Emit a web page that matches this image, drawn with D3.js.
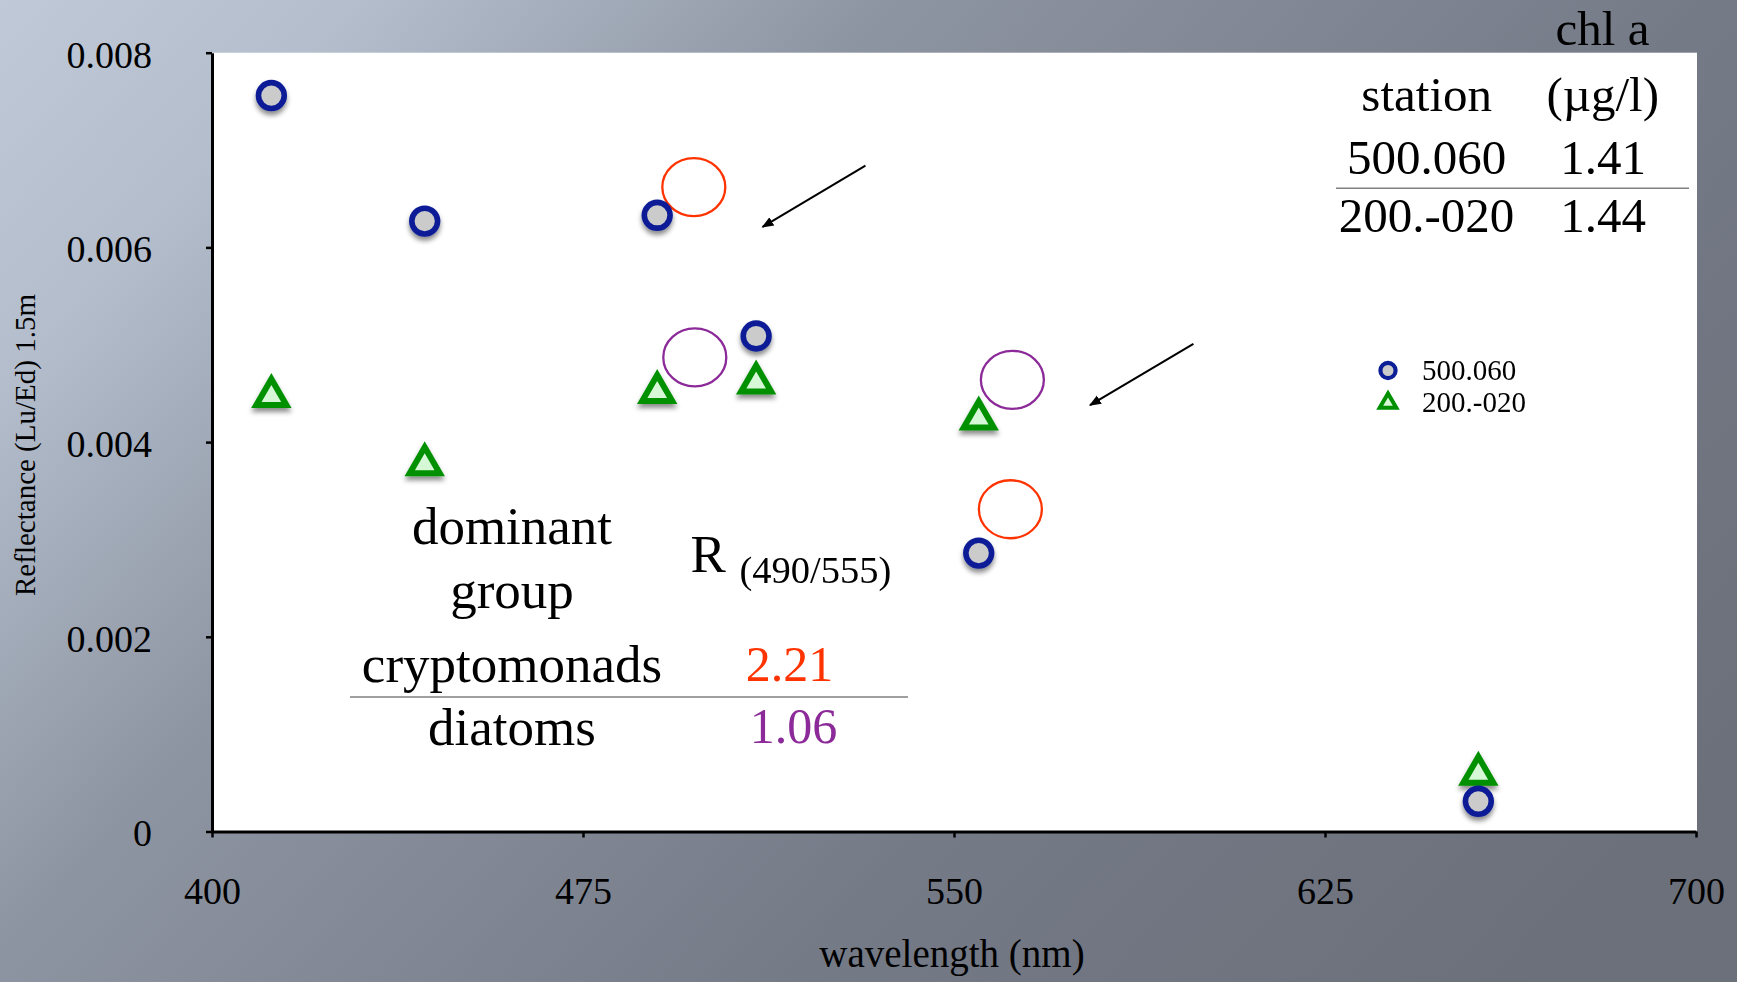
<!DOCTYPE html>
<html>
<head>
<meta charset="utf-8">
<script src="https://cdn.jsdelivr.net/npm/d3@7"></script>
<style>
  html, body { margin: 0; padding: 0; overflow: hidden; }
  svg { display: block; }
  text { font-family: "Liberation Serif", "Times New Roman", serif; }
</style>
</head>
<body>
<svg id="chart" width="1737" height="982"></svg>
<script>
// ---------------- data ----------------
const wavelengths = [412, 443, 490, 510, 555, 656];
const station500 = [0.00756, 0.00627, 0.00633, 0.00509, 0.00286, 0.00031];
const station200 = [0.00447, 0.00377, 0.00451, 0.00461, 0.00424, 0.00059];
const seriesNames = ["500.060", "200.-020"];

const xTicks = [400, 475, 550, 625, 700];
const yTicks = [0, 0.002, 0.004, 0.006, 0.008];
const yTickLabels = ["0", "0.002", "0.004", "0.006", "0.008"];

const xTitle = "wavelength (nm)";
const yTitle = "Reflectance (Lu/Ed) 1.5m";

// annotation ellipses (in data units) and arrows
const ellipseWl = [497.4, 497.6, 561.4, 561.8];
const ellipseR = [0.00662, 0.00487, 0.00331, 0.00464];
const ellipseGroup = ["cryptomonads", "diatoms", "cryptomonads", "diatoms"];
const arrowFromWl = [532.1, 598.4];
const arrowFromR = [0.00684, 0.00501];
const arrowToWl = [511.3, 577.5];
const arrowToR = [0.00621, 0.00438];

// station / chl a table
const stationHeader = ["station", "chl a", "(\u00b5g/l)"];
const stationIds = ["500.060", "200.-020"];
const chlValues = ["1.41", "1.44"];

// dominant group table
const groupHeader = ["dominant", "group"];
const groupNames = ["cryptomonads", "diatoms"];
const ratioValues = ["2.21", "1.06"];

// ---------------- drawing ----------------
const svg = d3.select("#chart");
const W = 1737, H = 982;
const colBlue = "#0c1f96", fillGray = "#cbcbcb";
const colGreen = "#009000", fillGreen = "#d6f8d6";
const colRed = "#ff3300", colPurple = "#8b2a98";

const defs = svg.append("defs");
const bg = defs.append("linearGradient").attr("id", "bg")
  .attr("gradientUnits", "userSpaceOnUse")
  .attr("x1", 0).attr("y1", 0).attr("x2", 1300).attr("y2", 1230);
[[0, "#bfc9d8"], [0.15, "#b3bdcc"], [0.36, "#8e95a2"], [0.7, "#747a86"], [1, "#6c707b"]]
  .forEach(([o, c]) => bg.append("stop").attr("offset", o).attr("stop-color", c));

const shadow = defs.append("filter").attr("id", "shadow")
  .attr("x", "-50%").attr("y", "-50%").attr("width", "200%").attr("height", "200%");
shadow.append("feDropShadow").attr("dx", 0).attr("dy", 4).attr("stdDeviation", 2.6)
  .attr("flood-color", "#000").attr("flood-opacity", 0.45);

defs.append("marker").attr("id", "arrowhead")
  .attr("viewBox", "0 0 10 10").attr("refX", 9).attr("refY", 5)
  .attr("markerWidth", 6).attr("markerHeight", 6).attr("orient", "auto")
  .append("path").attr("d", "M0,1 L10,5 L0,9 Z").attr("fill", "#000");

svg.append("rect").attr("width", W).attr("height", H).attr("fill", "url(#bg)");

const x = d3.scaleLinear().domain([400, 700]).range([212, 1696]);
const y = d3.scaleLinear().domain([0, 0.008]).range([831.5, 52.7]);

// plot area
svg.append("rect")
  .attr("x", x(400)).attr("y", y(0.008))
  .attr("width", x(700) - x(400) + 1).attr("height", y(0) - y(0.008))
  .attr("fill", "#ffffff");

// axes
const yAxis = d3.axisLeft(y).tickValues(yTicks)
  .tickFormat((d, i) => yTickLabels[i]).tickSizeInner(6).tickSizeOuter(0).tickPadding(54);
const xAxis = d3.axisBottom(x).tickValues(xTicks)
  .tickFormat(d3.format("d")).tickSizeInner(6).tickSizeOuter(0).tickPadding(39.5);

const gy = svg.append("g").attr("transform", `translate(${x(400)},0)`).call(yAxis);
const gx = svg.append("g").attr("transform", `translate(0,${y(0)})`).call(xAxis);
[gx, gy].forEach(g => {
  g.select(".domain").attr("stroke", "#000").attr("stroke-width", 3);
  g.selectAll(".tick line").attr("stroke", "#000").attr("stroke-width", 2.5);
  g.selectAll(".tick text").attr("fill", "#000")
    .style("font-family", '"Liberation Serif", serif').style("font-size", "38px");
});
gy.selectAll(".tick text").attr("dy", "0.38em");

// axis titles
svg.append("text").attr("x", 952).attr("y", 967).attr("text-anchor", "middle")
  .style("font-size", "39px").attr("fill", "#000").text(xTitle);
svg.append("text").attr("transform", "translate(35,445) rotate(-90)")
  .attr("text-anchor", "middle").style("font-size", "29px").attr("fill", "#000").text(yTitle);

// annotation ellipses
svg.append("g").selectAll("ellipse").data(ellipseWl).join("ellipse")
  .attr("cx", d => x(d)).attr("cy", (d, i) => y(ellipseR[i]))
  .attr("rx", 31.5).attr("ry", 29)
  .attr("fill", "none").attr("stroke-width", 2.3)
  .attr("stroke", (d, i) => ellipseGroup[i] === "cryptomonads" ? colRed : colPurple);

// arrows
svg.append("g").selectAll("line").data(arrowFromWl).join("line")
  .attr("x1", d => x(d)).attr("y1", (d, i) => y(arrowFromR[i]))
  .attr("x2", (d, i) => x(arrowToWl[i])).attr("y2", (d, i) => y(arrowToR[i]))
  .attr("stroke", "#000").attr("stroke-width", 2)
  .attr("marker-end", "url(#arrowhead)");

// data points
const tri = d3.symbol(d3.symbolTriangle, 390);
const triSmall = d3.symbol(d3.symbolTriangle, 120);

svg.append("g").attr("filter", "url(#shadow)").selectAll("path").data(wavelengths).join("path")
  .attr("d", tri)
  .attr("transform", (d, i) => `translate(${x(d)},${y(station200[i])})`)
  .attr("fill", fillGreen).attr("stroke", colGreen).attr("stroke-width", 6)
  .attr("stroke-linejoin", "miter");

svg.append("g").attr("filter", "url(#shadow)").selectAll("circle").data(wavelengths).join("circle")
  .attr("cx", d => x(d)).attr("cy", (d, i) => y(station500[i]))
  .attr("r", 12.9)
  .attr("fill", fillGray).attr("stroke", colBlue).attr("stroke-width", 5.6);

// legend
const leg = svg.append("g");
leg.append("circle").attr("cx", 1388).attr("cy", 370.5).attr("r", 7.6)
  .attr("fill", fillGray).attr("stroke", colBlue).attr("stroke-width", 4.2);
leg.append("path").attr("d", triSmall).attr("transform", "translate(1388,403)")
  .attr("fill", fillGreen).attr("stroke", colGreen).attr("stroke-width", 4);
leg.selectAll("text").data(seriesNames).join("text")
  .attr("x", 1422).attr("y", (d, i) => i === 0 ? 380 : 411.5)
  .style("font-size", "29px").attr("fill", "#000").text(d => d);

// station / chl a table
const t1 = svg.append("g").attr("text-anchor", "middle").style("font-size", "49px").attr("fill", "#000");
t1.append("text").attr("x", 1602.5).attr("y", 45).text(stationHeader[1]);
t1.append("text").attr("x", 1426.7).attr("y", 110.7).text(stationHeader[0]);
t1.append("text").attr("x", 1602.7).attr("y", 110.7).text(stationHeader[2]);
t1.selectAll(".sid").data(stationIds).join("text").attr("class", "sid")
  .attr("x", 1426.5).attr("y", (d, i) => i === 0 ? 174 : 231.7).text(d => d);
t1.selectAll(".chl").data(chlValues).join("text").attr("class", "chl")
  .attr("x", 1603).attr("y", (d, i) => i === 0 ? 174 : 231.7).text(d => d);
svg.append("line").attr("x1", 1336).attr("x2", 1689).attr("y1", 188.3).attr("y2", 188.3)
  .attr("stroke", "#808080").attr("stroke-width", 1.6);

// dominant group table
const t2 = svg.append("g").attr("fill", "#000");
t2.selectAll(".gh").data(groupHeader).join("text").attr("class", "gh")
  .attr("x", 512).attr("y", (d, i) => i === 0 ? 543.5 : 607.5)
  .attr("text-anchor", "middle").style("font-size", "53px").text(d => d);
t2.selectAll(".gn").data(groupNames).join("text").attr("class", "gn")
  .attr("x", 512).attr("y", (d, i) => i === 0 ? 681.5 : 744.5)
  .attr("text-anchor", "middle").style("font-size", "53px").text(d => d);
t2.append("text").attr("x", 690.5).attr("y", 572).style("font-size", "53px").text("R");
t2.append("text").attr("x", 739.5).attr("y", 583).style("font-size", "38.5px").text("(490/555)");
t2.selectAll(".rv").data(ratioValues).join("text").attr("class", "rv")
  .attr("x", (d, i) => i === 0 ? 789.5 : 793.5).attr("y", (d, i) => i === 0 ? 680.5 : 742.5)
  .attr("text-anchor", "middle").style("font-size", "50px")
  .attr("fill", (d, i) => i === 0 ? colRed : colPurple).text(d => d);
svg.append("line").attr("x1", 350).attr("x2", 908).attr("y1", 697).attr("y2", 697)
  .attr("stroke", "#808080").attr("stroke-width", 1.6);
</script>
</body>
</html>
